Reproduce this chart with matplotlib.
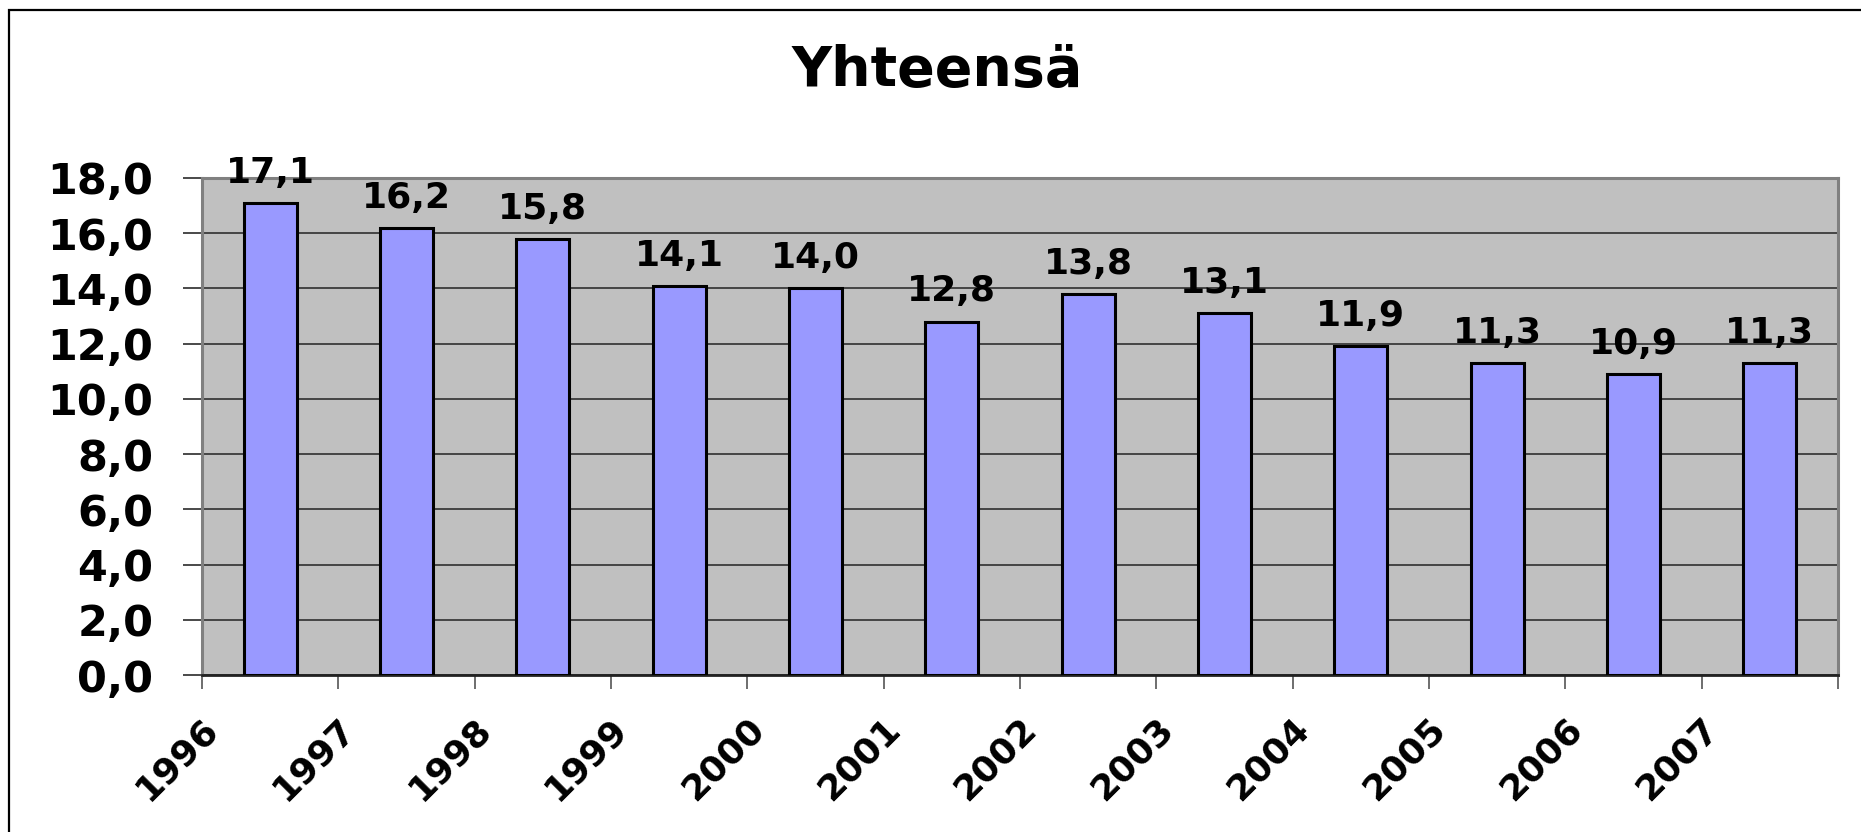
import matplotlib
matplotlib.use("Agg")
import matplotlib.pyplot as plt
from matplotlib.patches import Rectangle
import matplotlib.transforms as mtransforms

# Data
years = ["1996", "1997", "1998", "1999", "2000", "2001",
         "2002", "2003", "2004", "2005", "2006", "2007"]
values = [17.1, 16.2, 15.8, 14.1, 14.0, 12.8, 13.8, 13.1, 11.9, 11.3, 10.9, 11.3]
y_ticks = [0, 2, 4, 6, 8, 10, 12, 14, 16, 18]
title = "Yhteensä"

def fi(v):
    return f"{v:.1f}".replace(".", ",")

W, H = 1861, 832
fig = plt.figure(figsize=(W / 100, H / 100), dpi=100)
fig.patch.set_facecolor("white")

# outer frame (cut off at right and bottom like the reference)
fig.patches.append(Rectangle((9 / W, -0.1), 1.2, (1 - 10 / H) + 0.1,
                             transform=fig.transFigure, fill=False,
                             edgecolor="black", linewidth=1.6))

ax = fig.add_axes([202 / W, 157 / H, (1838 - 202) / W, (675 - 178) / H])
ax.set_facecolor("#C0C0C0")

x = list(range(len(years)))
ax.bar(x, values, width=0.39, color="#9999FF", edgecolor="black",
       linewidth=2.2, zorder=3)

ax.set_xlim(-0.5, len(years) - 0.5)
ax.set_ylim(0, 18)

# y axis and gridlines
ax.set_yticks(y_ticks)
ax.set_yticklabels([fi(v) for v in y_ticks], fontsize=31, fontweight="bold",
                   family="DejaVu Sans")
ax.yaxis.grid(True, color="#3a3a3a", linewidth=1.3, zorder=1)
ax.set_axisbelow(True)
ax.tick_params(axis="y", length=14, width=1.3, color="#3a3a3a", pad=21)

# x ticks at category boundaries
xt = [i - 0.5 for i in range(len(years) + 1)]
ax.set_xticks(xt)
ax.set_xticklabels(years + [""], fontsize=26, fontweight="bold",
                   family="DejaVu Sans", rotation=45, ha="right",
                   va="center", rotation_mode="anchor")
ax.tick_params(axis="x", length=10, width=1.2, color="#555555", pad=25)
offset = mtransforms.ScaledTranslation(11 / 100, 0, fig.dpi_scale_trans)
for lbl in ax.get_xticklabels():
    lbl.set_transform(lbl.get_transform() + offset)

for side in ["top", "right", "left"]:
    ax.spines[side].set_color("#808080")
    ax.spines[side].set_linewidth(2.2)
ax.spines["bottom"].set_color("#222222")
ax.spines["bottom"].set_linewidth(2.0)

# value labels
for xi, v in zip(x, values):
    ax.annotate(fi(v), (xi, v), xytext=(0, 14.5), textcoords="offset points",
                ha="center", va="baseline", fontsize=26, fontweight="bold",
                family="DejaVu Sans", zorder=5, annotation_clip=False)

fig.text(937 / W, 1 - 86 / H, title, ha="center", va="baseline",
         fontsize=40, fontweight="bold", family="DejaVu Sans")

fig.savefig("out.png", dpi=100)
